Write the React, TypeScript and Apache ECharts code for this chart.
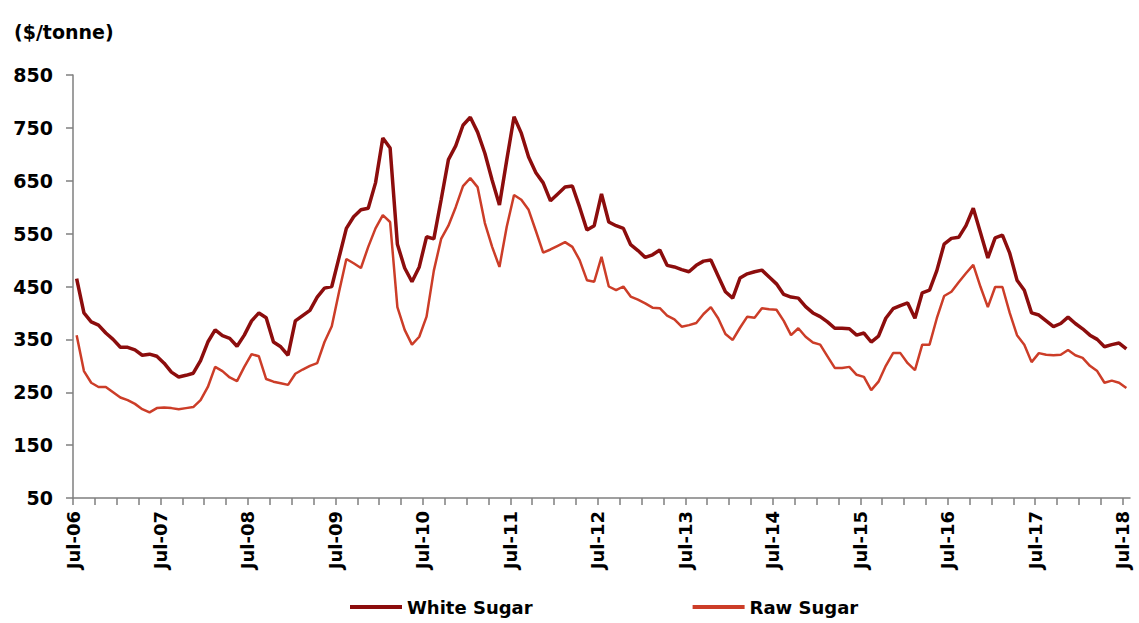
import React, { useEffect, useRef } from "react";
import * as echarts from "echarts";

const MONTH_NAMES = ["Jan", "Feb", "Mar", "Apr", "May", "Jun", "Jul", "Aug", "Sep", "Oct", "Nov", "Dec"];
const START_YEAR = 2006;
const START_MONTH = 6; // July (0-based)
const CATEGORY_COUNT = 146; // Jul-06 .. Aug-18 (axis runs a little past Jul-18)

const categories: string[] = [];
for (let k = 0; k < CATEGORY_COUNT; k++) {
  const m = (START_MONTH + k) % 12;
  const y = START_YEAR + Math.floor((START_MONTH + k) / 12);
  categories.push(`${MONTH_NAMES[m]}-${String(y % 100).padStart(2, "0")}`);
}

// Monthly prices, $/tonne, Jul-06 .. Jul-18
const whiteSugar = [
  465, 400, 383, 377, 362, 350, 335, 335, 330, 320, 322, 318,
  305, 288, 279, 282, 286, 310, 345, 368, 357, 352, 337, 358,
  385, 400, 391, 345, 336, 320, 385, 395, 405, 430, 447, 450,
  505, 560, 582, 595, 598, 646, 731, 712, 530, 485, 459, 487,
  544, 540, 614, 690, 716, 755, 770, 742, 702, 651, 604, 689,
  771, 740, 695, 665, 646, 612, 625, 638, 640, 600, 557, 565,
  625, 572, 565, 560, 529, 518, 505, 510, 519, 490, 487, 482,
  478, 490, 498, 500, 470, 440, 428, 466, 474, 478, 481, 468,
  455, 435, 430, 428, 412, 400, 393, 383, 371, 371, 370, 358,
  362, 345, 356, 390, 408, 414, 419, 390, 438, 443, 480, 530,
  541, 543, 565, 598, 551, 504, 542, 547, 513, 462, 443, 400,
  396, 385, 374, 380, 392, 380, 370, 358, 350, 336, 340, 343,
  332,
];

const rawSugar = [
  358, 290, 268, 260, 260, 250, 240, 235, 228, 218, 212, 220,
  221, 220, 218, 220, 222, 235, 260, 298, 290, 278, 271, 298,
  322, 318, 275, 270, 267, 264, 285, 293, 300, 305, 345, 375,
  440, 502, 494, 485, 525, 560, 585, 572, 411, 368, 340, 355,
  393, 480, 540, 565, 600, 640, 655, 638, 570, 525, 487, 563,
  623, 614, 595, 555, 514, 520, 527, 534, 525, 500, 462, 459,
  506, 450, 443, 450, 431, 425, 418, 410, 409, 395, 388, 374,
  377, 381, 398, 411, 390, 360, 349, 372, 393, 391, 409, 407,
  406, 385, 358, 371, 355, 344, 340, 318, 296, 296, 298, 283,
  279, 254, 270, 300, 324, 324, 305, 292, 340, 340, 390, 432,
  440, 458, 475, 491, 449, 411, 449, 449, 400, 358, 340, 307,
  324, 321, 320, 321, 330, 320, 315, 300, 290, 268, 272, 268,
  258,
];

const Y_MIN = 50;
const Y_MAX = 850;
const Y_STEP = 100;

const FONT = "DejaVu Sans";

export default function App() {
  const ref = useRef<HTMLDivElement>(null);

  useEffect(() => {
    if (!ref.current) return;
    const chart = echarts.init(ref.current, null, { renderer: "svg" });
    // each monthly observation sits mid-month on the date axis
    const toPoints = (arr: number[]) => arr.map((v, i) => [i + 0.5, v]);

    chart.setOption({
      animation: false,
      backgroundColor: "#ffffff",
      grid: { left: 73, right: 9, top: 75, bottom: 125, containLabel: false },
      graphic: [
        {
          type: "text",
          left: 14,
          top: 22,
          style: {
            text: "($/tonne)",
            fill: "#000",
            font: `bold 19px "${FONT}"`,
          },
        },
      ],
      legend: {
        left: 350,
        top: 598,
        padding: 0,
        icon: "rect",
        itemWidth: 52,
        itemHeight: 4,
        itemGap: 160,
        textStyle: { color: "#000", fontSize: 18, fontWeight: "bold", fontFamily: FONT },
        data: ["White Sugar", "Raw Sugar"],
      },
      xAxis: [
        {
          type: "category",
          data: categories,
          boundaryGap: false,
          axisLine: { lineStyle: { color: "#7f7f7f", width: 1.5 } },
          axisTick: {
            interval: (i: number) => i % 3 === 0,
            length: 7,
            lineStyle: { color: "#7f7f7f", width: 1.5 },
          },
          axisLabel: {
            interval: (i: number) => i % 12 === 0,
            rotate: 90,
            margin: 13,
            color: "#000",
            fontSize: 18,
            fontWeight: "bold",
            fontFamily: FONT,
          },
          splitLine: { show: false },
        },
        {
          type: "value",
          min: 0,
          max: CATEGORY_COUNT - 1,
          show: false,
        },
      ],
      yAxis: {
        type: "value",
        min: Y_MIN,
        max: Y_MAX,
        interval: Y_STEP,
        axisLine: { show: true, lineStyle: { color: "#7f7f7f", width: 1.5 } },
        axisTick: { show: true, length: 7, lineStyle: { color: "#7f7f7f", width: 1.5 } },
        axisLabel: {
          margin: 20,
          color: "#000",
          fontSize: 19,
          fontWeight: "bold",
          fontFamily: FONT,
        },
        splitLine: { show: false },
      },
      series: [
        {
          name: "White Sugar",
          type: "line",
          xAxisIndex: 1,
          data: toPoints(whiteSugar),
          symbol: "none",
          itemStyle: { color: "#8C0D0D" },
          lineStyle: { color: "#8C0D0D", width: 3.5 },
        },
        {
          name: "Raw Sugar",
          type: "line",
          xAxisIndex: 1,
          data: toPoints(rawSugar),
          symbol: "none",
          itemStyle: { color: "#CC3D28" },
          lineStyle: { color: "#CC3D28", width: 2.5 },
        },
      ],
    });

    return () => chart.dispose();
  }, []);

  return (
    <div
      ref={ref}
      style={{ position: "fixed", left: 0, top: 0, width: 1139, height: 623, background: "#fff" }}
    />
  );
}
